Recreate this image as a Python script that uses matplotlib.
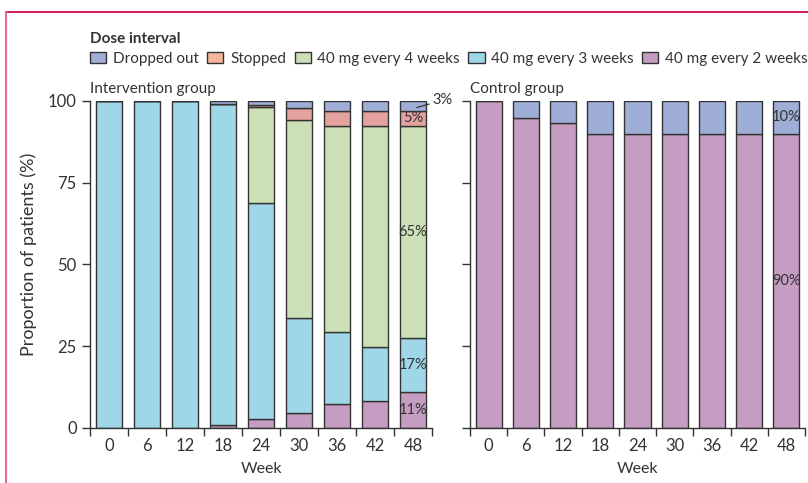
"""Dose interval over time, intervention vs control group."""

import matplotlib

matplotlib.use("Agg")
import numpy as np
from matplotlib import pyplot as plt
from matplotlib.lines import Line2D
from matplotlib.patches import Patch

plt.rcParams["font.family"] = ["Lato", "DejaVu Sans"]

weeks = ["0", "6", "12", "18", "24", "30", "36", "42", "48"]

# Intervention group, % of patients per dose interval (stacked bottom to top)
int_every2 = [0, 0, 0, 1.0, 2.8, 4.6, 7.3, 8.3, 10.9]
int_every3 = [100, 100, 100, 98.0, 66.0, 29.0, 22.1, 16.5, 16.6]
int_every4 = [0, 0, 0, 0, 29.4, 60.6, 63.0, 67.6, 64.9]
int_stopped = [0, 0, 0, 0, 0.7, 3.8, 4.6, 4.6, 4.6]
int_dropped = [0, 0, 0, 1.0, 1.1, 2.0, 3.0, 3.0, 3.0]

# Control group
ctl_every2 = [100, 94.7, 93.2, 90, 90, 90, 90, 90, 90]
ctl_dropped = [0, 5.3, 6.8, 10, 10, 10, 10, 10, 10]

labels = [
    "Dropped out",
    "Stopped",
    "40 mg every 4 weeks",
    "40 mg every 3 weeks",
    "40 mg every 2 weeks",
]
colors = {
    "Dropped out": "#9eaed6",
    "Stopped": "#e3a29d",
    "40 mg every 4 weeks": "#cbe0b6",
    "40 mg every 3 weeks": "#9fd6e8",
    "40 mg every 2 weeks": "#c69dc2",
}
legend_colors = dict(colors, Stopped="#f5b79c")
EDGE = "#333333"
TEXT = "#333333"
WIDTH = 0.7


def _stack(axis, series):
    x = np.arange(len(weeks))
    bottom = np.zeros(len(weeks))
    for name, values in series:
        values = np.asarray(values, dtype=float)
        axis.bar(
            x, values, WIDTH, bottom=bottom, color=colors[name],
            edgecolor=EDGE, linewidth=1.0, zorder=2,
        )
        bottom += values
    return x


def _style(axis, title, show_labels):
    axis.set_xlim(-0.5, len(weeks) - 0.5)
    axis.set_ylim(0, 100)
    for side in ("top", "right"):
        axis.spines[side].set_visible(False)
    for side in ("left", "bottom"):
        axis.spines[side].set_color(EDGE)
        axis.spines[side].set_linewidth(1.0)
    axis.set_yticks([0, 25, 50, 75, 100])
    axis.tick_params(axis="y", length=6, width=1.0, color=EDGE,
                     labelsize=12, labelcolor=TEXT, labelleft=show_labels)
    axis.set_xticks(np.arange(len(weeks)))
    axis.set_xticklabels(weeks)
    axis.set_xticks(np.arange(len(weeks) + 1) - 0.5, minor=True)
    axis.tick_params(axis="x", which="major", length=0, pad=7,
                     labelsize=12, labelcolor=TEXT)
    axis.tick_params(axis="x", which="minor", length=6, width=1.0, color=EDGE)
    axis.set_xlabel("Week", fontsize=11.5, color=TEXT, labelpad=6)
    axis.text(0, 1.015, title, transform=axis.transAxes, ha="left",
              va="bottom", fontsize=11, color=TEXT)


fig = plt.figure(figsize=(8.08, 4.83), dpi=100)
left = fig.add_axes([0.1114, 0.1139, 0.4233, 0.677])
right = fig.add_axes([0.5817, 0.1139, 0.4146, 0.677])

x = _stack(left, [
    ("40 mg every 2 weeks", int_every2),
    ("40 mg every 3 weeks", int_every3),
    ("40 mg every 4 weeks", int_every4),
    ("Stopped", int_stopped),
    ("Dropped out", int_dropped),
])
_style(left, "Intervention group", True)
left.set_ylabel("Proportion of patients (%)", fontsize=13, color=TEXT,
                labelpad=6)
left.yaxis.set_label_coords(-0.155, 0.53)

# value labels on the week 48 bar
i = len(weeks) - 1
base = 0.0
for values in (int_every2, int_every3, int_every4, int_stopped):
    v = values[i]
    left.text(x[i], base + v / 2, f"{v:.0f}%", ha="center", va="center",
              fontsize=10.5, color=TEXT, zorder=3)
    base += v
v = int_dropped[i]
left.annotate(f"{v:.0f}%", xy=(x[i] + 0.1, base + v / 2 - 0.5),
              xytext=(x[i] + 0.5, 100.2), ha="left", va="center",
              fontsize=10.5, color=TEXT, annotation_clip=False,
              arrowprops=dict(arrowstyle="-", color=TEXT, lw=0.9,
                              shrinkA=0, shrinkB=0))

_stack(right, [
    ("40 mg every 2 weeks", ctl_every2),
    ("Dropped out", ctl_dropped),
])
_style(right, "Control group", False)
right.text(x[i], ctl_every2[i] / 2, f"{ctl_every2[i]:.0f}%", ha="center",
           va="center", fontsize=10.5, color=TEXT, zorder=3)
right.text(x[i], ctl_every2[i] + ctl_dropped[i] / 2, f"{ctl_dropped[i]:.0f}%",
           ha="center", va="center", fontsize=10.5, color=TEXT, zorder=3)

# legend across the top
handles = [Patch(facecolor=legend_colors[n], edgecolor=EDGE, linewidth=1.0)
           for n in labels]
fig.text(0.1114, 0.920, "Dose interval", ha="left", va="center",
         fontsize=11, fontweight="bold", color=TEXT)
fig.legend(handles, labels, loc="center left", bbox_to_anchor=(0.1114, 0.878),
           ncol=5, frameon=False, fontsize=11, handlelength=1.05,
           handleheight=0.75, handletextpad=0.45, columnspacing=0.55,
           borderpad=0, borderaxespad=0, labelcolor=TEXT)

# frame rule
border = "#d0245a"
fig.add_artist(Line2D([0.0075, 1.0], [0.975, 0.975], color=border, lw=1.5,
                      transform=fig.transFigure))
fig.add_artist(Line2D([0.0075, 0.0075], [0.0, 0.975], color="#df6a92", lw=1.5,
                      transform=fig.transFigure))

fig.savefig("out.png", dpi=100)
